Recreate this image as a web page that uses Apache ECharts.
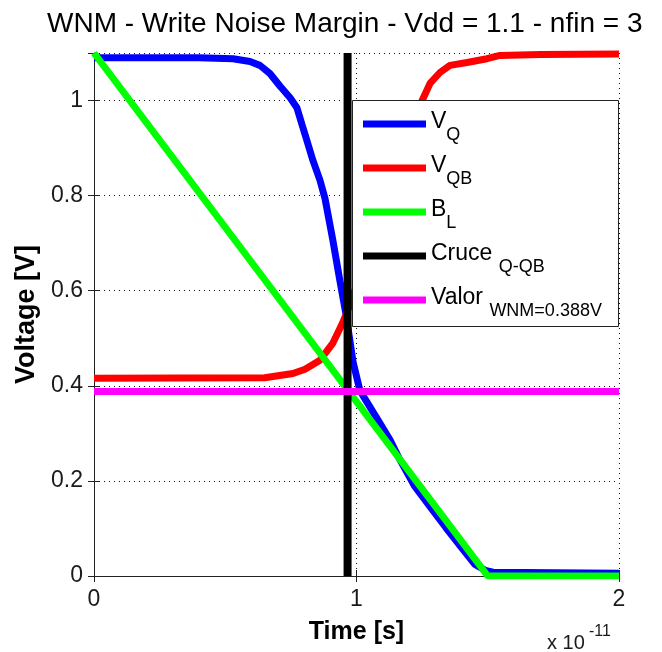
<!DOCTYPE html>
<html>
<head>
<meta charset="utf-8">
<title>WNM - Write Noise Margin</title>
<script src="https://cdn.jsdelivr.net/npm/echarts@6/dist/echarts.min.js"></script>
<style>
  html, body { margin: 0; padding: 0; background: #fff; }
  #chart { width: 662px; height: 652px; }
</style>
</head>
<body>
<div id="chart"></div>
<script>
// Time axis values are in units of 1e-11 s (the axis shows "x 10^-11").
const vqTime = [0, 0.40, 0.53, 0.594, 0.632, 0.670, 0.709, 0.747, 0.773, 0.792, 0.811, 0.834, 0.861, 0.880, 0.910, 0.937, 0.960, 0.987, 1.013, 1.082, 1.128, 1.160, 1.220, 1.280, 1.340, 1.400, 1.450, 1.490, 1.520, 2.0];
const vqVolt = [1.09, 1.09, 1.088, 1.082, 1.074, 1.057, 1.03, 1.006, 0.985, 0.95, 0.916, 0.874, 0.832, 0.794, 0.706, 0.62, 0.55, 0.45, 0.39, 0.328, 0.286, 0.25, 0.19, 0.146, 0.102, 0.06, 0.025, 0.012, 0.008, 0.006];

const vqbTime = [0, 0.65, 0.758, 0.804, 0.861, 0.910, 0.945, 0.975, 1.03, 1.09, 1.15, 1.20, 1.25, 1.28, 1.318, 1.356, 1.421, 1.497, 1.547, 1.70, 2.0];
const vqbVolt = [0.416, 0.417, 0.426, 0.435, 0.454, 0.49, 0.53, 0.57, 0.66, 0.77, 0.87, 0.94, 1.0, 1.036, 1.059, 1.074, 1.08, 1.088, 1.095, 1.097, 1.098];

const blTime = [0, 1.5, 2.0];
const blVolt = [1.1, 0, 0];

const crossTime = 0.966;   // Q / QB crossing instant
const wnmValue = 0.388;    // write noise margin [V]

const timeTicks = [0, 1, 2];
const voltTicks = [0, 0.2, 0.4, 0.6, 0.8, 1];

const legendMain = ['V', 'V', 'B', 'Cruce ', 'Valor '];
const legendSub = ['Q', 'QB', 'L', 'Q-QB', 'WNM=' + wnmValue + 'V'];
const seriesNames = ['VQ', 'VQB', 'BL', 'Cruce', 'Valor'];
const seriesColors = ['#0000ff', '#ff0000', '#00ff00', '#000000', '#ff00ff'];

const FONT = 'Liberation Sans, Arial, Helvetica, sans-serif';

const zip = (t, v) => t.map((x, i) => [x, v[i]]);

const lineSeries = (idx, data, width) => ({
  name: seriesNames[idx],
  type: 'line',
  data: data,
  showSymbol: false,
  symbol: 'none',
  clip: true,
  color: seriesColors[idx],
  itemStyle: { color: seriesColors[idx] },
  lineStyle: { color: seriesColors[idx], width: width },
  emphasis: { disabled: true },
  silent: true,
  animation: false
});

const chart = echarts.init(document.getElementById('chart'), null, { renderer: 'canvas' });

const axisLineStyle = { lineStyle: { color: '#222', width: 1 } };
const tickStyle = { inside: true, length: 6, lineStyle: { color: '#222', width: 1 } };
const gridDots = { show: true, lineStyle: { color: '#111', width: 1, type: [1, 4] } };

chart.setOption({
  backgroundColor: '#ffffff',
  animation: false,
  textStyle: { fontFamily: FONT },
  title: {
    text: 'WNM - Write Noise Margin - Vdd = 1.1 - nfin = 3',
    left: 42,
    top: 5,
    textStyle: { fontFamily: FONT, fontSize: 28, fontWeight: 'normal', color: '#000' }
  },
  grid: { left: 94, right: 43, top: 53, bottom: 76, containLabel: false },
  xAxis: [
    {
      type: 'value', min: timeTicks[0], max: timeTicks[timeTicks.length - 1], interval: 1,
      name: 'Time [s]', nameLocation: 'middle', nameGap: 44,
      nameTextStyle: { fontFamily: FONT, fontSize: 25, fontWeight: 'bold', color: '#000' },
      axisLine: axisLineStyle, axisTick: tickStyle,
      axisLabel: { fontFamily: FONT, fontSize: 23, color: '#1a1a1a', margin: 12 },
      splitLine: gridDots
    },
    {
      type: 'value', position: 'top', min: timeTicks[0], max: timeTicks[timeTicks.length - 1], interval: 1,
      axisLine: axisLineStyle, axisTick: tickStyle, axisLabel: { show: false }, splitLine: { show: false }
    }
  ],
  yAxis: [
    {
      type: 'value', min: 0, max: 1.1, interval: 0.2,
      name: 'Voltage [V]', nameLocation: 'middle', nameGap: 47,
      nameTextStyle: { fontFamily: FONT, fontSize: 27, fontWeight: 'bold', color: '#000' },
      axisLine: axisLineStyle, axisTick: tickStyle,
      axisLabel: { fontFamily: FONT, fontSize: 23, color: '#1a1a1a', margin: 11, showMaxLabel: false,
        formatter: v => (voltTicks.some(t => Math.abs(t - v) < 1e-9) ? String(+v.toFixed(1)) : '') },
      splitLine: gridDots
    },
    {
      type: 'value', position: 'right', min: 0, max: 1.1, interval: 0.2,
      axisLine: axisLineStyle, axisTick: tickStyle, axisLabel: { show: false }, splitLine: { show: false }
    }
  ],
  legend: {
    orient: 'vertical',
    left: 352,
    top: 100,
    padding: [4, 0, 0, 11],
    itemGap: 4,
    itemWidth: 63,
    itemHeight: 7,
    icon: 'rect',
    selectedMode: false,
    z: 20,
    data: seriesNames,
    formatter: name => {
      const i = seriesNames.indexOf(name);
      return '{p|\u200b}{m|' + legendMain[i] + '}{s|' + legendSub[i] + '}';
    },
    textStyle: {
      fontFamily: FONT,
      color: '#000',
      rich: {
        p: { fontSize: 10, lineHeight: 40 },
        m: { fontFamily: FONT, fontSize: 23, height: 35, lineHeight: 35, verticalAlign: 'top', color: '#000' },
        s: { fontFamily: FONT, fontSize: 18, height: 18, lineHeight: 18, verticalAlign: 'bottom', color: '#000' }
      }
    }
  },
  graphic: [
    {
      type: 'rect', z: 10, silent: true,
      shape: { x: 352.5, y: 100.5, width: 266, height: 226 },
      style: { fill: '#ffffff', stroke: '#222', lineWidth: 1 }
    },
    {
      type: 'text', z: 10, silent: true, x: 547, y: 643,
      style: { text: 'x 10', fontFamily: FONT, fontSize: 20, fill: '#1a1a1a', verticalAlign: 'middle', align: 'left' }
    },
    {
      type: 'text', z: 10, silent: true, x: 589, y: 632,
      style: { text: '-11', fontFamily: FONT, fontSize: 16, fill: '#1a1a1a', verticalAlign: 'middle', align: 'left' }
    }
  ],
  series: [
    lineSeries(0, zip(vqTime, vqVolt), 7),
    lineSeries(1, zip(vqbTime, vqbVolt), 7),
    lineSeries(2, zip(blTime, blVolt), 7),
    lineSeries(3, [[crossTime, 0], [crossTime, 1.1]], 8),
    lineSeries(4, [[timeTicks[0], wnmValue], [timeTicks[timeTicks.length - 1], wnmValue]], 7)
  ]
});
</script>
</body>
</html>
